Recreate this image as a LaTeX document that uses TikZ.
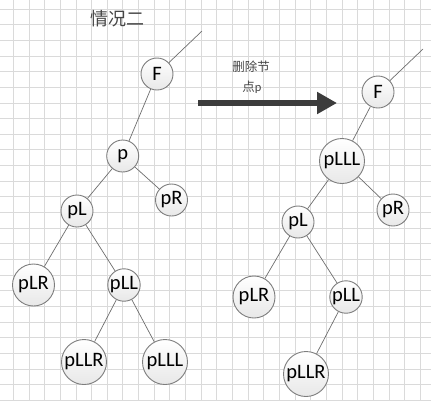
\documentclass[tikz,border=0pt]{standalone}
\usepackage{fontspec}
\setmainfont{Carlito}
\newfontfamily\cjk{Noto Sans CJK SC}
\usetikzlibrary{arrows.meta}
\definecolor{gridc}{RGB}{218,218,218}
\definecolor{edgec}{RGB}{110,110,110}
\definecolor{borderc}{RGB}{125,125,125}
\definecolor{arrowc}{RGB}{60,60,60}
\definecolor{titlec}{RGB}{70,70,70}
\tikzset{
  tnode/.style={circle, draw=borderc, line width=0.9pt, inner sep=0pt,
    top color=white, bottom color=black!9, font=\fontsize{20.5}{20.5}\selectfont},
  small/.style={tnode, minimum size=32pt},
  mid/.style={tnode, minimum size=42pt},
  big/.style={tnode, minimum size=45pt},
  edge/.style={draw=edgec, line width=0.7pt},
}
\begin{document}
\begin{tikzpicture}[x=1pt,y=-1pt]
\useasboundingbox (0,0) rectangle (431,400);
\fill[white] (0,0) rectangle (431,400);
% grid
\foreach \i in {0,...,27} {
  \draw[gridc, line width=0.8pt] ({13.3+15.65*\i},0) -- ({13.3+15.65*\i},400);
}
\foreach \i in {0,...,25} {
  \draw[gridc, line width=0.8pt] (0,{9+15.65*\i}) -- (431,{9+15.65*\i});
}
% title
\node[font=\cjk\fontsize{18}{18}\selectfont, text=titlec] (title) at (117,19) {情况二};
% left tree
\node[small] (F1) at (157,74) {F};
\node[small] (p1) at (122.7,156) {p};
\node[small] (pR1) at (171.5,200) {pR};
\node[small] (pL1) at (77,211) {pL};
\node[mid] (pLR1) at (33.5,285) {pLR};
\node[small] (pLL1) at (124,285) {pLL};
\node[big] (pLLR1) at (84,362) {pLLR};
\node[big] (pLLL1) at (165,362) {pLLL};
\coordinate (top1) at (202,31);
\draw[edge] (F1) -- (top1);
\draw[edge] (F1) -- (p1);
\draw[edge] (p1) -- (pL1);
\draw[edge] (p1) -- (pR1);
\draw[edge] (pL1) -- (pLR1);
\draw[edge] (pL1) -- (pLL1);
\draw[edge] (pLL1) -- (pLLR1);
\draw[edge] (pLL1) -- (pLLL1);
% arrow
\coordinate (as) at (198,103);
\coordinate (ae) at (337,103);
\draw[arrowc, line width=6.5pt, -{Triangle[length=20pt,width=21pt]}] (as) -- (ae);
\node[font=\cjk\fontsize{12.5}{12.5}\selectfont, text=titlec] (lab1) at (251,67) {删除节};
\node[font=\cjk\fontsize{12.5}{12.5}\selectfont, text=titlec, inner sep=0pt] (lab2) at (252,87) {点\fontspec{Carlito}p};
% right tree
\node[small] (F2) at (378,92) {F};
\node[big] (pLLL2) at (342,161) {pLLL};
\node[small] (pR2) at (393,210) {pR};
\node[small] (pL2) at (298,222) {pL};
\node[mid] (pLR2) at (254,297) {pLR};
\node[small] (pLL2) at (346,297) {pLL};
\node[big] (pLLR2) at (306,374) {pLLR};
\coordinate (top2) at (423,49);
\draw[edge] (F2) -- (top2);
\draw[edge] (F2) -- (pLLL2);
\draw[edge] (pLLL2) -- (pL2);
\draw[edge] (pLLL2) -- (pR2);
\draw[edge] (pL2) -- (pLR2);
\draw[edge] (pL2) -- (pLL2);
\draw[edge] (pLL2) -- (pLLR2);
\end{tikzpicture}
\end{document}
